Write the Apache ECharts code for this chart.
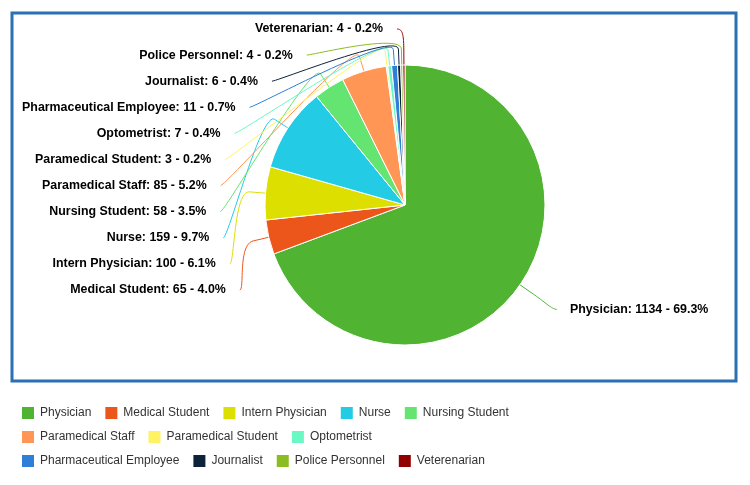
<!DOCTYPE html>
<html><head><meta charset="utf-8">
<script src="https://cdn.jsdelivr.net/npm/echarts@6/dist/echarts.min.js"></script>
<style>html,body{margin:0;padding:0;background:#fff}#c{width:750px;height:485px}</style>
</head><body><div id="c"></div>
<script>
const categories = ['Physician','Medical Student','Intern Physician','Nurse','Nursing Student','Paramedical Staff','Paramedical Student','Optometrist','Pharmaceutical Employee','Journalist','Police Personnel','Veterenarian'];
const values = [1134,65,100,159,58,85,3,7,11,6,4,4];
const colors = ['#50B432','#ED561B','#DDDF00','#24CBE5','#64E572','#FF9655','#FFF263','#6AF9C4','#2f7ed8','#0d233a','#8bbc21','#910000'];
const legendRow1 = ['Physician','Medical Student','Intern Physician','Nurse','Nursing Student'];
const legendRow2 = ['Paramedical Staff','Paramedical Student','Optometrist'];
const legendRow3 = ['Pharmaceutical Employee','Journalist','Police Personnel','Veterenarian'];

const CX = 405, CY = 205, R = 140;
const total = values.reduce((a, b) => a + b, 0);
const mids = [];
(function () { let acc = 0; values.forEach(v => { mids.push((acc + v / 2) / total * 2 * Math.PI); acc += v; }); })();

function anchorFor(i) {
  let y, left;
  if (i === 0) { y = CY - 183 * Math.cos(mids[0]); left = false; }
  else { y = 290 - (i - 1) * 26.1; left = true; }
  const dy = y - CY + 5;
  const b = dy < 0 ? 171 : 200, a = 185;
  let dx = a * Math.sqrt(Math.max(0, 1 - (dy / b) * (dy / b)));
  dx = Math.max(dx, 8);
  const x = left ? CX - dx : CX + dx - 3;
  return { x, y, left };
}

function connector(i, an) {
  const th = mids[i], s = Math.sin(th), c = Math.cos(th);
  const T = [CX + R * s, CY - R * c];
  const B = [CX + (R + 16) * s, CY - (R + 16) * c];
  const C2 = [2 * B[0] - T[0], 2 * B[1] - T[1]];
  const L = [an.x, an.y];
  const C1 = [an.x + (an.left ? 5 : -5), an.y];
  const pts = [T];
  const N = 24;
  for (let k = 0; k <= N; k++) {
    const t = 1 - k / N, u = 1 - t;
    pts.push([
      u*u*u*L[0] + 3*u*u*t*C1[0] + 3*u*t*t*C2[0] + t*t*t*B[0],
      u*u*u*L[1] + 3*u*u*t*C1[1] + 3*u*t*t*C2[1] + t*t*t*B[1]
    ]);
  }
  return pts;
}

const chart = echarts.init(document.getElementById('c'), null, { renderer: 'canvas' });
const legendBase = {
  left: 20, orient: 'horizontal', itemWidth: 14, itemHeight: 14, itemGap: 12, padding: 0,
  icon: 'rect', selectedMode: false,
  textStyle: { fontFamily: '"Liberation Sans", Arial, sans-serif', fontSize: 12, color: '#333' }
};
chart.setOption({
  animation: false,
  color: colors,
  graphic: [{
    type: 'rect', shape: { x: 12, y: 13, width: 724, height: 368 },
    style: { fill: null, stroke: '#2B70B4', lineWidth: 3 }, silent: true
  }],
  legend: [
    Object.assign({}, legendBase, { data: legendRow1, top: 405 }),
    Object.assign({}, legendBase, { data: legendRow2, top: 429 }),
    Object.assign({}, legendBase, { data: legendRow3, top: 453 })
  ],
  series: [{
    type: 'pie',
    center: [CX, CY],
    radius: R,
    startAngle: 90,
    clockwise: true,
    avoidLabelOverlap: false,
    emphasis: { disabled: true },
    itemStyle: { borderColor: '#fff', borderWidth: 1 },
    label: {
      show: true,
      formatter: p => p.name + ': ' + p.value + ' - ' + (p.value / total * 100).toFixed(1) + '%',
      fontFamily: '"Liberation Sans", Arial, sans-serif',
      fontWeight: 'bold', fontSize: 12.4, color: '#000'
    },
    labelLine: { show: true, length: 10, length2: 10, smooth: false, lineStyle: { width: 1 } },
    labelLayout: function (p) {
      const i = p.dataIndex;
      const an = anchorFor(i);
      return {
        x: an.left ? an.x - 14 : an.x + 13,
        y: an.y,
        align: an.left ? 'right' : 'left',
        verticalAlign: 'middle',
        labelLinePoints: connector(i, an)
      };
    },
    data: categories.map((n, i) => ({ name: n, value: values[i] }))
  }]
});
</script>
</body></html>
